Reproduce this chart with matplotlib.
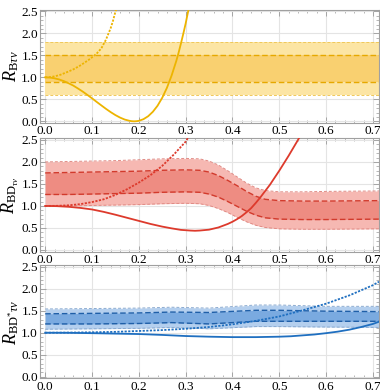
import matplotlib
matplotlib.use("Agg")
import matplotlib.pyplot as plt
import numpy as np
from matplotlib.ticker import MultipleLocator, AutoMinorLocator

plt.rcParams['font.family'] = ['Liberation Serif', 'DejaVu Serif']
plt.rcParams['mathtext.fontset'] = 'custom'
plt.rcParams['mathtext.rm'] = 'Liberation Serif'
plt.rcParams['mathtext.it'] = 'Liberation Serif:italic'

# ---------------- Panel 1 : B -> tau nu ----------------
b_band_x = [0.0, 0.713]
b_outer_lo = [0.6, 0.6]
b_inner_lo = [0.9, 0.9]
b_inner_hi = [1.5, 1.5]
b_outer_hi = [1.8, 1.8]

b_solid_x = [0.0, 0.01, 0.02, 0.03, 0.04, 0.05, 0.06, 0.07, 0.08, 0.09, 0.10, 0.11,
             0.12, 0.13, 0.14, 0.15, 0.16, 0.17, 0.18, 0.185, 0.19, 0.195, 0.20, 0.21,
             0.22, 0.23, 0.24, 0.25, 0.26, 0.27, 0.28, 0.285, 0.29, 0.295, 0.30, 0.305, 0.308]
b_solid_y = [1.0, 0.995, 0.978, 0.951, 0.914, 0.866, 0.813, 0.747, 0.678, 0.602, 0.524, 0.442,
             0.362, 0.283, 0.209, 0.142, 0.085, 0.040, 0.012, 0.003, 0.0, 0.003, 0.011, 0.049,
             0.116, 0.217, 0.354, 0.535, 0.760, 1.039, 1.37, 1.56, 1.77, 1.99, 2.22, 2.48, 2.62]

b_dot_x = [0.0, 0.01, 0.021, 0.033, 0.046, 0.06, 0.075, 0.085, 0.096, 0.11, 0.12, 0.13,
           0.14, 0.145, 0.15, 0.155]
b_dot_y = [1.0, 1.005, 1.024, 1.06, 1.116, 1.18, 1.27, 1.34, 1.42, 1.54, 1.66, 1.86,
           2.12, 2.29, 2.49, 2.65]

# ---------------- Panel 2 : B -> D tau nu ----------------
d_band_x   = [0.0, 0.05, 0.10, 0.15, 0.20, 0.25, 0.30, 0.33, 0.35, 0.37, 0.39, 0.41,
              0.43, 0.45, 0.47, 0.50, 0.55, 0.60, 0.713]
d_outer_hi = [2.00, 2.01, 2.02, 2.03, 2.05, 2.07, 2.08, 2.07, 2.02, 1.93, 1.80, 1.66,
              1.52, 1.41, 1.35, 1.32, 1.32, 1.33, 1.34]
d_inner_hi = [1.75, 1.76, 1.77, 1.78, 1.79, 1.81, 1.82, 1.81, 1.77, 1.69, 1.58, 1.46,
              1.33, 1.22, 1.15, 1.12, 1.11, 1.11, 1.12]
d_inner_lo = [1.26, 1.26, 1.27, 1.28, 1.29, 1.31, 1.32, 1.31, 1.27, 1.20, 1.10, 0.99,
              0.88, 0.79, 0.73, 0.70, 0.69, 0.69, 0.70]
d_outer_lo = [1.00, 1.00, 1.01, 1.02, 1.03, 1.05, 1.06, 1.05, 1.01, 0.94, 0.85, 0.74,
              0.64, 0.56, 0.51, 0.48, 0.47, 0.47, 0.48]

d_solid_x = [0.0, 0.025, 0.05, 0.075, 0.10, 0.125, 0.15, 0.175, 0.20, 0.225, 0.25, 0.27,
             0.29, 0.31, 0.32, 0.33, 0.35, 0.37, 0.38, 0.39, 0.40, 0.41, 0.42, 0.43,
             0.44, 0.45, 0.46, 0.47, 0.48, 0.49, 0.50, 0.51, 0.52, 0.53, 0.54, 0.546]
d_solid_y = [1.0, 0.995, 0.98, 0.955, 0.92, 0.865, 0.80, 0.73, 0.66, 0.59, 0.53, 0.49,
             0.455, 0.44, 0.435, 0.44, 0.46, 0.51, 0.55, 0.59, 0.64, 0.70, 0.77, 0.855,
             0.95, 1.07, 1.20, 1.34, 1.48, 1.64, 1.80, 1.97, 2.14, 2.32, 2.50, 2.61]

d_dot_x = [0.0, 0.025, 0.05, 0.075, 0.10, 0.125, 0.15, 0.175, 0.20, 0.225, 0.25,
           0.275, 0.30, 0.307]
d_dot_y = [1.0, 1.002, 1.014, 1.04, 1.087, 1.15, 1.25, 1.38, 1.53, 1.70, 1.91,
           2.17, 2.46, 2.58]

# ---------------- Panel 3 : B -> D* tau nu ----------------
s_band_x   = [0.0, 0.10, 0.20, 0.27, 0.35, 0.45, 0.50, 0.60, 0.713]
s_outer_hi = [1.54, 1.55, 1.56, 1.58, 1.56, 1.63, 1.63, 1.60, 1.60]
s_inner_hi = [1.43, 1.44, 1.45, 1.47, 1.46, 1.51, 1.51, 1.49, 1.48]
s_inner_lo = [1.20, 1.20, 1.21, 1.23, 1.20, 1.26, 1.26, 1.26, 1.26]
s_outer_lo = [1.08, 1.09, 1.10, 1.12, 1.09, 1.14, 1.14, 1.13, 1.12]

s_solid_x = [0.0, 0.05, 0.10, 0.15, 0.20, 0.25, 0.30, 0.35, 0.40, 0.45, 0.50, 0.525,
             0.55, 0.575, 0.60, 0.625, 0.65, 0.675, 0.70, 0.713]
s_solid_y = [1.0, 0.998, 0.99, 0.98, 0.97, 0.95, 0.925, 0.91, 0.90, 0.90, 0.91, 0.92,
             0.94, 0.96, 0.99, 1.025, 1.07, 1.13, 1.20, 1.25]

s_dot_x = [0.0, 0.05, 0.10, 0.15, 0.20, 0.25, 0.30, 0.35, 0.40, 0.45, 0.50, 0.55,
           0.60, 0.65, 0.70, 0.713]
s_dot_y = [1.0, 1.003, 1.01, 1.02, 1.04, 1.06, 1.09, 1.13, 1.19, 1.27, 1.37, 1.51,
           1.66, 1.85, 2.08, 2.16]

x_ticks = [0.0, 0.1, 0.2, 0.3, 0.4, 0.5, 0.6, 0.7]
y_ticks = [0.0, 0.5, 1.0, 1.5, 2.0, 2.5]

panels = [
    dict(label=r'$R_{\mathrm{B}\tau\nu}$', bx=b_band_x, olo=b_outer_lo, ilo=b_inner_lo,
         ihi=b_inner_hi, ohi=b_outer_hi, sx=b_solid_x, sy=b_solid_y, dx=b_dot_x, dy=b_dot_y,
         line='#EDB400', outer='#FCE5A4', inner='#F9D070', oedge='#EFC85A', iedge='#E6A800',
         bottom=0.686),
    dict(label=r'$R_{\mathrm{BD}_{\tau\nu}}$', bx=d_band_x, olo=d_outer_lo, ilo=d_inner_lo,
         ihi=d_inner_hi, ohi=d_outer_hi, sx=d_solid_x, sy=d_solid_y, dx=d_dot_x, dy=d_dot_y,
         line='#DD3A2C', outer='#F6B8B2', inner='#EE8C82', oedge='#E08A84', iedge='#D23A2C',
         bottom=0.358),
    dict(label=r'$R_{\mathrm{BD}^{*}\tau\nu}$', bx=s_band_x, olo=s_outer_lo, ilo=s_inner_lo,
         ihi=s_inner_hi, ohi=s_outer_hi, sx=s_solid_x, sy=s_solid_y, dx=s_dot_x, dy=s_dot_y,
         line='#1F6FC0', outer='#B4CFEE', inner='#7AAAE0', oedge='#8AAAD0', iedge='#1F5FA8',
         bottom=0.0345),
]

fig = plt.figure(figsize=(3.8, 3.92), dpi=100)
for p in panels:
    ax = fig.add_axes([0.1053, p['bottom'], 0.892, 0.2895])
    ax.fill_between(p['bx'], p['olo'], p['ohi'], color=p['outer'], lw=0, zorder=1)
    ax.fill_between(p['bx'], p['ilo'], p['ihi'], color=p['inner'], lw=0, zorder=2)
    for key in ('olo', 'ohi'):
        ax.plot(p['bx'], p[key], color=p['oedge'], lw=0.7, ls=(0, (3, 2)), zorder=3)
    for key in ('ilo', 'ihi'):
        ax.plot(p['bx'], p[key], color=p['iedge'], lw=1.0, ls=(0, (4, 2)), zorder=3)
    ax.plot(p['sx'], p['sy'], color=p['line'], lw=1.3, zorder=4)
    ax.plot(p['dx'], p['dy'], color=p['line'], lw=1.3, ls=(0, (1.2, 0.8)), zorder=4)

    ax.set_xlim(-0.011, 0.713)
    ax.set_ylim(-0.04, 2.54)
    ax.set_xticks(x_ticks)
    ax.set_yticks(y_ticks)
    ax.set_xticklabels([f'{t:.1f}' for t in x_ticks])
    ax.set_yticklabels([f'{t:.1f}' for t in y_ticks])
    ax.xaxis.set_minor_locator(AutoMinorLocator(5))
    ax.yaxis.set_minor_locator(AutoMinorLocator(5))
    ax.grid(True, which='major', color='#E4E4E4', lw=0.8, zorder=0)
    ax.set_axisbelow(True)
    ax.tick_params(which='both', direction='in', top=True, right=True,
                   color='#9A9A9A', labelsize=9.5, pad=1.5)
    ax.tick_params(which='major', length=4, width=0.6)
    ax.tick_params(which='minor', length=2, width=0.5)
    for s in ax.spines.values():
        s.set_color('#A0A0A0')
        s.set_linewidth(0.8)
    ax.set_ylabel(p['label'], fontsize=13, labelpad=0)

fig.savefig('out.png', dpi=100)
